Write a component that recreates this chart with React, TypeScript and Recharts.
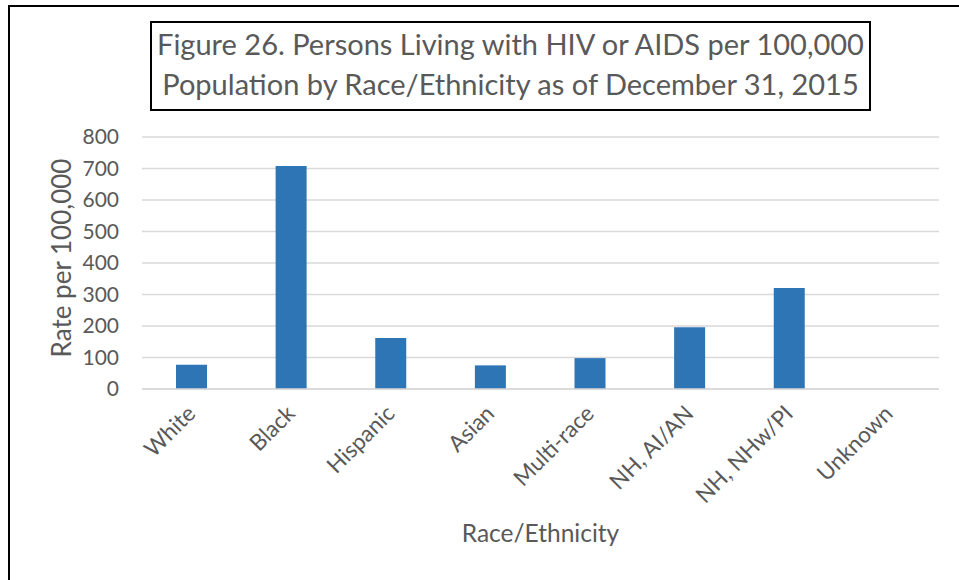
import { BarChart, Bar, XAxis, YAxis, CartesianGrid, Label } from "recharts";

const races = [
  "White",
  "Black",
  "Hispanic",
  "Asian",
  "Multi-race",
  "NH, AI/AN",
  "NH, NHw/PI",
  "Unknown",
];
const rates = [77, 708, 162, 75, 98, 196, 321, 0];
const yTicks = [0, 100, 200, 300, 400, 500, 600, 700, 800];

const TEXT_COLOR = "#595959";
const GRID_COLOR = "#d9d9d9";
const BAR_COLOR = "#2e75b6";
const FONT = "Lato, 'Open Sans', sans-serif";

const data = races.map((race, i) => ({ race, rate: rates[i] }));

const RaceTick = ({ x, y, payload }: any) => (
  <g transform={`translate(${x + 5},${y + 26})`}>
    <text
      textAnchor="end"
      transform="rotate(-45)"
      fill={TEXT_COLOR}
      fontSize={22.5}
      fontFamily={FONT}
    >
      {payload.value}
    </text>
  </g>
);

const App = () => {
  return (
    <div
      style={{
        position: "absolute",
        left: 0,
        top: 0,
        width: 959,
        height: 580,
        background: "#fff",
        overflow: "hidden",
      }}
    >
      {/* frame edges */}
      <div
        style={{
          position: "absolute",
          left: 8,
          top: 5,
          width: 960,
          height: 600,
          borderLeft: "2px solid #000",
          borderTop: "2px solid #000",
        }}
      />
      <div
        style={{
          position: "absolute",
          left: 150,
          top: 21,
          width: 717,
          height: 85,
          border: "2px solid #000",
          color: TEXT_COLOR,
          fontFamily: FONT,
          fontSize: 29,
          lineHeight: "40px",
          textAlign: "center",
          paddingTop: 1,
          boxSizing: "content-box",
          whiteSpace: "nowrap",
        }}
      >
        Figure 26. Persons Living with HIV or AIDS per 100,000
        <br />
        Population by Race/Ethnicity as of December 31, 2015
      </div>
      <div style={{ position: "absolute", left: 0, top: 0 }}>
        <BarChart
          width={959}
          height={580}
          data={data}
          margin={{ top: 137, right: 20, left: 82, bottom: 61 }}
        >
          <CartesianGrid
            vertical={false}
            stroke={GRID_COLOR}
            strokeWidth={1.5}
          />
          <XAxis
            dataKey="race"
            interval={0}
            height={130}
            tickLine={false}
            tickSize={0}
            tickMargin={0}
            axisLine={{ stroke: GRID_COLOR, strokeWidth: 1.5 }}
            tick={<RaceTick />}
          >
            <Label
              content={({ viewBox }: any) => (
                <text
                  x={viewBox.x + viewBox.width / 2}
                  y={viewBox.y + 153}
                  textAnchor="middle"
                  fill={TEXT_COLOR}
                  fontSize={24.5}
                  fontFamily={FONT}
                >
                  Race/Ethnicity
                </text>
              )}
            />
          </XAxis>
          <YAxis
            width={60}
            domain={[0, 800]}
            ticks={yTicks}
            interval={0}
            axisLine={false}
            tickLine={false}
            tickSize={0}
            tickMargin={23}
            tick={{ fill: TEXT_COLOR, fontSize: 21, fontFamily: FONT }}
          >
            <Label
              content={({ viewBox }: any) => {
                const cx = viewBox.x - 11;
                const cy = viewBox.y + viewBox.height / 2 - 5;
                return (
                  <text
                    x={cx}
                    y={cy}
                    textAnchor="middle"
                    transform={`rotate(-90, ${cx}, ${cy})`}
                    fill={TEXT_COLOR}
                    fontSize={26}
                    fontFamily={FONT}
                  >
                    Rate per 100,000
                  </text>
                );
              }}
            />
          </YAxis>
          <Bar
            dataKey="rate"
            fill={BAR_COLOR}
            barSize={31}
            isAnimationActive={false}
          />
        </BarChart>
      </div>
    </div>
  );
};

export default App;
